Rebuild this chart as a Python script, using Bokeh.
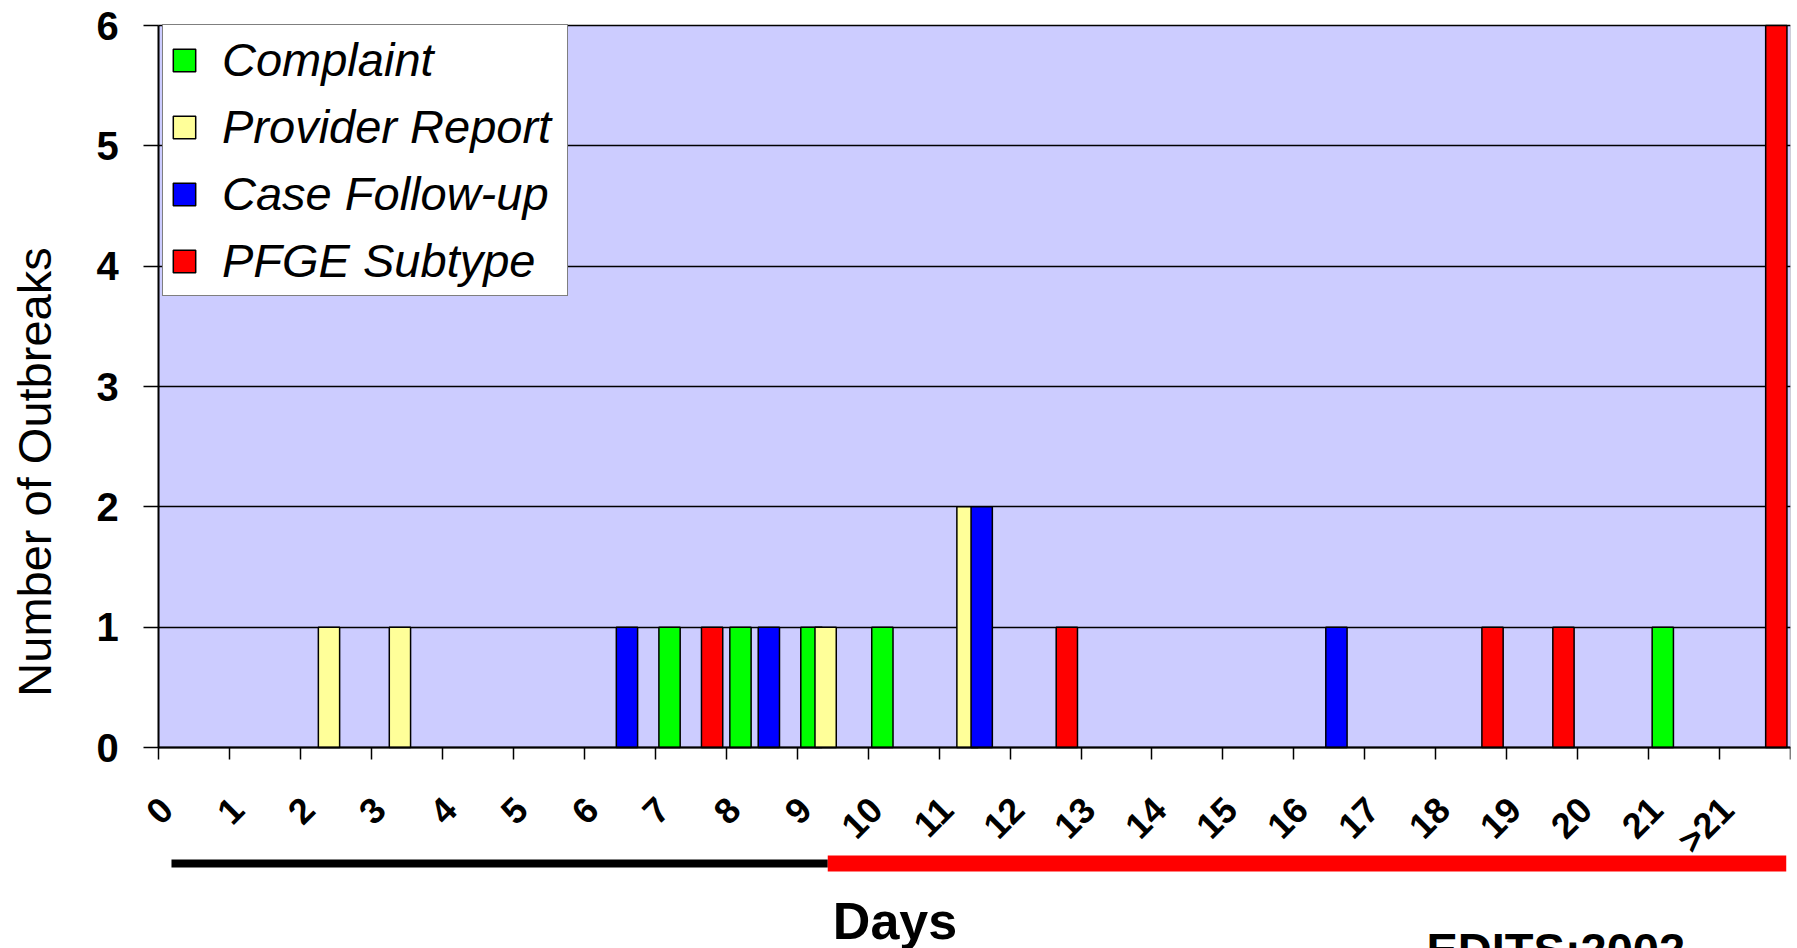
import math

from bokeh.plotting import figure
from bokeh.models import (
    Range1d, FixedTicker, CustomJSTickFormatter, Legend, LegendItem,
    Label, BoxAnnotation, ColumnDataSource, LinearAxis,
)
from bokeh.embed import file_html
from bokeh.resources import INLINE

# Days from first case to outbreak detection, by detection method
day_labels = [str(d) for d in range(22)] + [">21"]
series_names = ["Complaint", "Provider Report", "Case Follow-up", "PFGE Subtype"]
complaint = [0, 0, 0, 0, 0, 0, 0, 1, 1, 1, 1, 0, 0, 0, 0, 0, 0, 0, 0, 0, 0, 1, 0]
provider_report = [0, 0, 1, 1, 0, 0, 0, 0, 0, 1, 0, 2, 0, 0, 0, 0, 0, 0, 0, 0, 0, 0, 0]
case_follow_up = [0, 0, 0, 0, 0, 0, 1, 0, 1, 0, 0, 2, 0, 0, 0, 0, 1, 0, 0, 0, 0, 0, 0]
pfge_subtype = [0, 0, 0, 0, 0, 0, 0, 1, 0, 0, 0, 0, 1, 0, 0, 0, 0, 0, 1, 1, 0, 0, 6]
y_ticks = [0, 1, 2, 3, 4, 5, 6]

series_values = [complaint, provider_report, case_follow_up, pfge_subtype]
series_colors = ["#00FF00", "#FFFF99", "#0000FF", "#FF0000"]

FONT = "Liberation Sans"
n_cat = len(day_labels)
y_max = 6
# The frame covers the whole page so that the axis labels, the bands under
# the day labels and the notes can all be drawn inside it; the chart proper
# occupies days 0..23 and counts 0..6.
x_floor = -2.23
y_floor = -1.67
y_ceil = 6.208

p = figure(
    width=1797, height=948,
    x_range=Range1d(x_floor, n_cat), y_range=Range1d(y_floor, y_ceil),
    output_backend="svg", toolbar_location=None,
    min_border_left=0, min_border_right=7,
    min_border_top=0, min_border_bottom=0,
)
p.background_fill_color = "white"
p.border_fill_color = "white"
p.outline_line_color = None

# plot area shading for the count region
p.add_layout(BoxAnnotation(left=0, right=n_cat, bottom=0, top=y_max,
                           fill_color="#CCCCFF", fill_alpha=1.0,
                           line_color="black", line_width=1, level="image"))

# horizontal grid lines at every whole count
p.xgrid.visible = False
p.ygrid.ticker = FixedTicker(ticks=y_ticks)
p.ygrid.cross_bounds = (0, n_cat)
p.ygrid.grid_line_color = "black"
p.ygrid.grid_line_width = 1.5

# y axis at day zero
ya = p.yaxis[0]
ya.fixed_location = 0
ya.bounds = (0, y_max)
ya.ticker = FixedTicker(ticks=y_ticks)
ya.major_tick_out = 15
ya.major_tick_in = 0
ya.minor_tick_out = 0
ya.minor_tick_in = 0
ya.axis_line_width = 2
ya.major_tick_line_width = 1.5
ya.major_label_standoff = 25
ya.major_label_text_font = FONT
ya.major_label_text_font_size = "40px"
ya.major_label_text_font_style = "bold"
ya.major_label_text_color = "black"

# y title carried by a bare axis whose extent centres it a little below mid-chart
y_title = LinearAxis(
    fixed_location=0, bounds=(-1.42, y_max),
    ticker=FixedTicker(ticks=[]),
    axis_line_color=None, major_tick_out=0, major_tick_in=0,
    minor_tick_out=0, minor_tick_in=0,
    axis_label="Number of Outbreaks", axis_label_standoff=98,
    axis_label_text_font=FONT, axis_label_text_font_size="47px",
    axis_label_text_font_style="normal", axis_label_text_color="black",
)
p.add_layout(y_title, "left")

# x axis at count zero: tick marks on day boundaries, labels just right of them
xa = p.xaxis[0]
xa.fixed_location = 0
xa.bounds = (0, n_cat)
xa.ticker = FixedTicker(
    ticks=[i + 0.11 for i in range(n_cat)],
    minor_ticks=list(range(n_cat + 1)),
)
xa.formatter = CustomJSTickFormatter(
    args=dict(labels=day_labels), code="return labels[Math.floor(tick)];"
)
xa.major_tick_out = 0
xa.major_tick_in = 0
xa.minor_tick_out = 12
xa.minor_tick_in = 0
xa.minor_tick_line_width = 1.5
xa.minor_tick_line_color = "black"
xa.axis_line_width = 2
xa.major_label_orientation = math.pi / 4
xa.major_label_standoff = 44
xa.major_label_text_font = FONT
xa.major_label_text_font_size = "36px"
xa.major_label_text_font_style = "bold"
xa.major_label_text_color = "black"

# clustered bars: four slots per day, each bar overlapping its neighbour
bar_width = 0.3
legend_items = []
for k, (name, vals, color) in enumerate(zip(series_names, series_values, series_colors)):
    xs = [i + 0.2 * (k + 1) for i, v in enumerate(vals) if v > 0]
    tops = [v for v in vals if v > 0]
    src = ColumnDataSource(dict(x=xs, top=tops))
    r = p.vbar(x="x", top="top", bottom=0, width=bar_width, source=src,
               fill_color=color, line_color="black", line_width=1.5)
    legend_items.append(LegendItem(label=name, renderers=[r]))

legend = Legend(
    items=legend_items, location=(162, 652),
    padding=7, spacing=12, label_standoff=24, label_width=338,
    glyph_width=28, glyph_height=28, label_height=48,
    label_text_font=FONT, label_text_font_size="47px",
    label_text_font_style="italic", label_text_color="black",
    border_line_color="black", border_line_width=1.5,
    background_fill_color="white", background_fill_alpha=1.0,
)
p.add_layout(legend)

# bands under the day labels: early days in black, later days in red
p.add_layout(BoxAnnotation(left=0.18, right=9.43, bottom=-0.997, top=-0.931,
                           fill_color="black", fill_alpha=1.0, line_color=None))
p.add_layout(BoxAnnotation(left=9.43, right=22.94, bottom=-1.03, top=-0.898,
                           fill_color="#FF0000", fill_alpha=1.0, line_color=None))

# axis title and source note
p.add_layout(Label(x=894.5, y=28, x_units="screen", y_units="screen",
                   text="Days", text_align="center", text_baseline="alphabetic",
                   text_font=FONT, text_font_size="52px", text_font_style="bold",
                   text_color="black"))
p.add_layout(Label(x=1426, y=-1, x_units="screen", y_units="screen",
                   text="EDITS:2002", text_align="left", text_baseline="alphabetic",
                   text_font=FONT, text_font_size="47px", text_font_style="bold",
                   text_color="black"))

open("out.html", "w").write(file_html(p, INLINE))
